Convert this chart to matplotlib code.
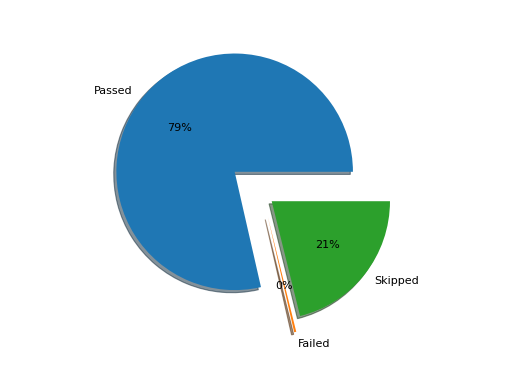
import matplotlib
matplotlib.use("Agg")
import matplotlib.pyplot as plt

labels = ["Passed", "Failed", "Skipped"]
counts = [275, 1, 74]
explode = [0.3, 0.2, 0.1]

fig = plt.figure(figsize=(6.4, 4.8), dpi=80)
plt.pie(counts, labels=labels, explode=explode, autopct="%1.0f%%", shadow=True)
plt.savefig("out.png")
